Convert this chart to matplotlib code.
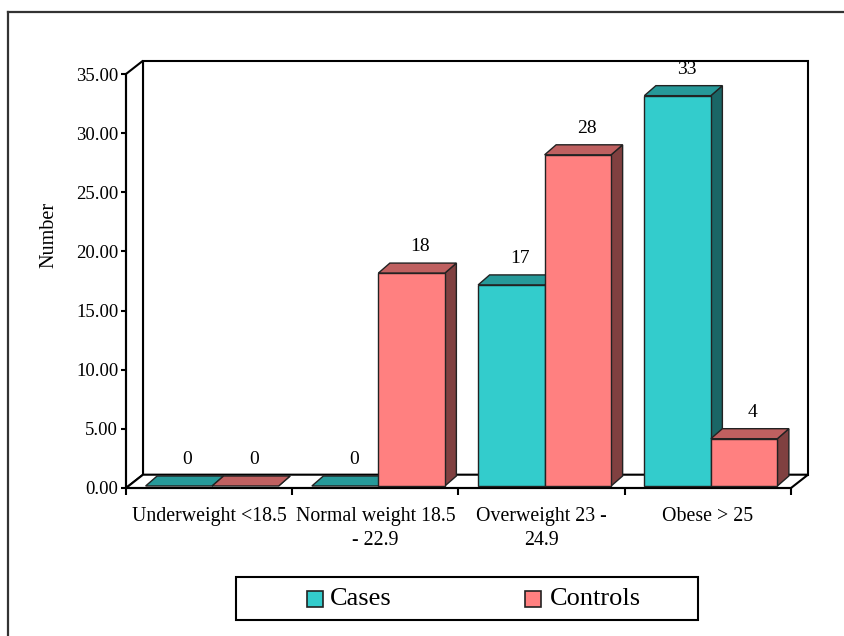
import numpy as np
import matplotlib
matplotlib.use("Agg")
import matplotlib.pyplot as plt
from matplotlib.patches import Polygon, Rectangle
from matplotlib.lines import Line2D

plt.rcParams['font.family'] = ['Liberation Serif', 'DejaVu Serif']

categories = ["Underweight <18.5", "Normal weight 18.5\n- 22.9",
              "Overweight 23 -\n24.9", "Obese > 25"]
series_names = ["Cases", "Controls"]
cases = [0, 0, 17, 33]
controls = [0, 18, 28, 4]
y_ticks = [0, 5, 10, 15, 20, 25, 30, 35]

# (front, top, side) shades for each series
shades = {
    "Cases": ("#33CCCC", "#269999", "#1A6666"),
    "Controls": ("#FF8080", "#BF6060", "#804040"),
}

W, H = 844, 636
fig = plt.figure(figsize=(W / 100, H / 100), dpi=100)
fig.patch.set_facecolor("white")


def fx(px):
    return px / W


def fy(py):
    return 1 - py / H


# front plane of the plot area, in pixels
ax_left, ax_right, ax_bottom, ax_top = 126, 791, 488, 74
ax = fig.add_axes([fx(ax_left), fy(ax_bottom),
                   (ax_right - ax_left) / W, (ax_bottom - ax_top) / H])
ax.set_xlim(0, len(categories))
ax.set_ylim(0, 35)
ax.set_facecolor("none")

ux = len(categories) / (ax_right - ax_left)   # data units per pixel
uy = 35 / (ax_bottom - ax_top)


def d(px, py):
    return px * ux, py * uy


wall_dx, wall_dy = d(17, 13.3)
off_dx, off_dy = d(3, 2)
bar_dx, bar_dy = d(11.5, 10)
bar_w = 0.4

edge_kw = dict(edgecolor="black", linewidth=1.5, clip_on=False)
xmax = len(categories)

# back wall, side wall and floor
ax.add_patch(Polygon([(wall_dx, wall_dy), (xmax + wall_dx, wall_dy),
                      (xmax + wall_dx, 35 + wall_dy), (wall_dx, 35 + wall_dy)],
                     facecolor="white", zorder=1, **edge_kw))
ax.add_patch(Polygon([(0, 0), (0, 35), (wall_dx, 35 + wall_dy), (wall_dx, wall_dy)],
                     facecolor="white", zorder=1, **edge_kw))
ax.add_patch(Polygon([(0, 0), (xmax, 0), (xmax + wall_dx, wall_dy), (wall_dx, wall_dy)],
                     facecolor="white", zorder=1, **edge_kw))

bar_kw = dict(edgecolor="#222222", linewidth=1.0, clip_on=False, zorder=3)
for i in range(len(categories)):
    center = i + 0.5
    for j, (name, values) in enumerate(zip(series_names, [cases, controls])):
        front, top, side = shades[name]
        v = values[i]
        x0 = center - bar_w + j * bar_w + off_dx
        x1 = x0 + bar_w
        y0 = off_dy
        y1 = y0 + v
        ax.add_patch(Polygon([(x1, y0), (x1, y1), (x1 + bar_dx, y1 + bar_dy),
                              (x1 + bar_dx, y0 + bar_dy)], facecolor=side, **bar_kw))
        ax.add_patch(Polygon([(x0, y1), (x1, y1), (x1 + bar_dx, y1 + bar_dy),
                              (x0 + bar_dx, y1 + bar_dy)], facecolor=top, **bar_kw))
        if v > 0:
            ax.add_patch(Rectangle((x0, y0), bar_w, v, facecolor=front, **bar_kw))
        lx, ly = d(3, 8)
        ax.text((x0 + x1) / 2 + bar_dx / 2 + lx, y1 + bar_dy + ly, f"{v}",
                ha="center", va="bottom", fontsize=14, zorder=5)

# axes lines and ticks
for s in ["top", "right"]:
    ax.spines[s].set_visible(False)
for s in ["left", "bottom"]:
    ax.spines[s].set_linewidth(1.5)
    ax.spines[s].set_zorder(2)

ax.set_yticks(y_ticks)
ax.set_yticklabels([f"{t:.2f}" for t in y_ticks])
ax.tick_params(axis="y", direction="out", length=3.6, width=1.5, pad=2, labelsize=13.5)

ax.set_xticks(np.arange(len(categories) + 1))
ax.set_xticklabels([])
ax.set_xticks(np.arange(len(categories)) + 0.5, minor=True)
ax.set_xticklabels(categories, minor=True, fontsize=14.3, linespacing=1.3,
                   multialignment="center")
ax.tick_params(axis="x", which="major", direction="out", length=5, width=1.5)
ax.tick_params(axis="x", which="minor", length=0, pad=14)

fig.text(fx(49), fy(235), "Number", rotation=90, ha="center", va="center", fontsize=14.5)

# outer frame (top and left edges)
fig.add_artist(Line2D([fx(8), 1], [fy(12), fy(12)], color="#333333", linewidth=1.6))
fig.add_artist(Line2D([fx(8), fx(8)], [fy(12), 0], color="#333333", linewidth=1.6))

# legend box
fig.add_artist(Rectangle((fx(236), fy(620)), (698 - 236) / W, (620 - 577) / H,
                         transform=fig.transFigure, facecolor="white",
                         edgecolor="black", linewidth=1.5))
for name, sq_x, txt_x in [("Cases", 307, 330), ("Controls", 525, 550)]:
    fig.add_artist(Rectangle((fx(sq_x), fy(607)), 16 / W, 16 / H,
                             transform=fig.transFigure, facecolor=shades[name][0],
                             edgecolor="#222222", linewidth=1.2))
    fig.text(fx(txt_x), fy(599), name, ha="left", va="center", fontsize=19)

fig.savefig("out.png", dpi=100)
